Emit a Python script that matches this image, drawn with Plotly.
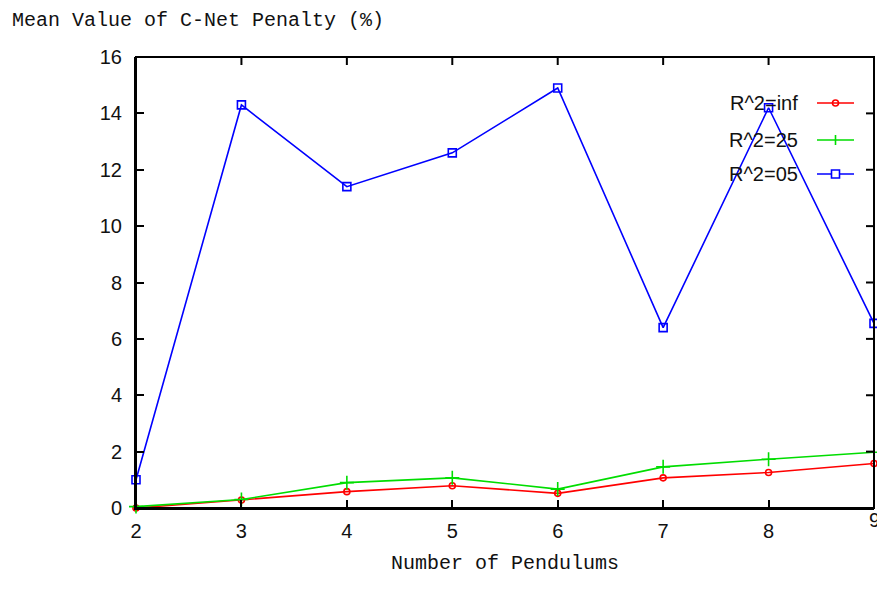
import plotly.graph_objects as go

pendulums = [2, 3, 4, 5, 6, 7, 8, 9]
r2_inf = [0.0, 0.28, 0.58, 0.79, 0.52, 1.07, 1.26, 1.58]
r2_25 = [0.05, 0.30, 0.90, 1.07, 0.67, 1.46, 1.73, 1.98]
r2_05 = [1.0, 14.3, 11.4, 12.6, 14.9, 6.4, 14.2, 6.55]
y_ticks = [0, 2, 4, 6, 8, 10, 12, 14, 16]

series_names = ["R^2=inf", "R^2=25", "R^2=05"]
series_colors = ["#ff0000", "#00dd00", "#0000ff"]
series_symbols = ["circle-open", "cross-thin-open", "square-open"]
series_sizes = [6, 10, 8]
series_values = [r2_inf, r2_25, r2_05]

W, H = 877, 591
L, R, T, B = 136, 3, 57, 83
PW, PH = W - L - R, H - T - B
TICKLEN = 8


def px_x(p):
    return (p - L) / PW


def px_y(p):
    return 1 - (p - T) / PH


fig = go.Figure()
for name, col, sym, sz, vals in zip(series_names, series_colors, series_symbols, series_sizes, series_values):
    fig.add_trace(go.Scatter(
        x=pendulums, y=vals, mode="lines+markers", name=name,
        line=dict(color=col, width=1.6),
        marker=dict(symbol=sym, size=sz, color=col, line=dict(color=col, width=1.6)),
        showlegend=False, cliponaxis=False,
    ))

# custom gnuplot-style key (text right-aligned, sample to the right)
key_rows = [103, 140, 174]
key_text_right = 800
key_line = [817, 854]
shapes = []
annotations = []
for i, (name, col, ky) in enumerate(zip(series_names, series_colors, key_rows)):
    cx = (key_line[0] + key_line[1]) / 2
    shapes.append(dict(type="line", xref="paper", yref="paper",
                       x0=px_x(key_line[0]), x1=px_x(key_line[1]), y0=px_y(ky), y1=px_y(ky),
                       line=dict(color=col, width=1.6)))
    if i == 0:
        shapes.append(dict(type="circle", xref="paper", yref="paper",
                           x0=px_x(cx - 3), x1=px_x(cx + 3), y0=px_y(ky - 3), y1=px_y(ky + 3),
                           line=dict(color=col, width=1.6)))
    elif i == 1:
        shapes.append(dict(type="line", xref="paper", yref="paper",
                           x0=px_x(cx), x1=px_x(cx), y0=px_y(ky - 5), y1=px_y(ky + 5),
                           line=dict(color=col, width=1.6)))
    else:
        shapes.append(dict(type="rect", xref="paper", yref="paper",
                           x0=px_x(cx - 4), x1=px_x(cx + 4), y0=px_y(ky - 4), y1=px_y(ky + 4),
                           line=dict(color=col, width=1.6), fillcolor="white"))
    annotations.append(dict(x=px_x(key_text_right), y=px_y(ky), xref="paper", yref="paper", text=name,
                            showarrow=False, xanchor="right", yanchor="middle",
                            font=dict(family="Liberation Sans", size=20, color="#111111")))

# frame
shapes.append(dict(type="rect", xref="paper", yref="paper", x0=0, x1=1, y0=0, y1=1,
                   line=dict(color="black", width=2), layer="above"))

# mirrored ticks (top and right), gnuplot style
for xv in pendulums:
    shapes.append(dict(type="line", xref="x", yref="paper", x0=xv, x1=xv,
                       y0=1, y1=1 - TICKLEN / PH, line=dict(color="black", width=2), layer="above"))
for yv in y_ticks:
    shapes.append(dict(type="line", xref="paper", yref="y", x0=1, x1=1 - TICKLEN / PW,
                       y0=yv, y1=yv, line=dict(color="black", width=2), layer="above"))

annotations.append(dict(text="Mean Value of C-Net Penalty (%)", xref="paper", yref="paper",
                        x=px_x(10), y=px_y(20), xanchor="left", yanchor="middle", showarrow=False,
                        font=dict(family="Liberation Mono", size=20, color="#111111")))

# last x tick label (half cut off by the page edge, as in the reference)
annotations.append(dict(text=str(pendulums[-1]), xref="x", yref="paper",
                        x=pendulums[-1], y=px_y(520), xanchor="center", yanchor="middle",
                        showarrow=False,
                        font=dict(family="Liberation Sans", size=20, color="#111111")))

axis_common = dict(
    showgrid=False, zeroline=False, showline=True, linecolor="black", linewidth=2,
    ticks="inside", ticklen=TICKLEN, tickwidth=2, tickcolor="black",
    tickfont=dict(family="Liberation Sans", size=20, color="#111111"), automargin=False,
)

fig.update_layout(
    width=W, height=H,
    margin=dict(l=L, r=R, t=T, b=B, pad=0, autoexpand=False),
    paper_bgcolor="white", plot_bgcolor="white",
    xaxis=dict(range=[2, 9], tickvals=pendulums, ticklabelstandoff=4,
               title=dict(text="Number of Pendulums", standoff=14,
                          font=dict(family="Liberation Mono", size=20, color="#111111")),
               **axis_common),
    yaxis=dict(range=[0, 16], tickvals=y_ticks, ticklabelstandoff=8, **axis_common),
    shapes=shapes,
    annotations=annotations,
)

fig.write_html(
    "out.html",
    config={"displayModeBar": False},
    post_script="document.body.style.margin='0';document.body.style.overflow='hidden';",
)
